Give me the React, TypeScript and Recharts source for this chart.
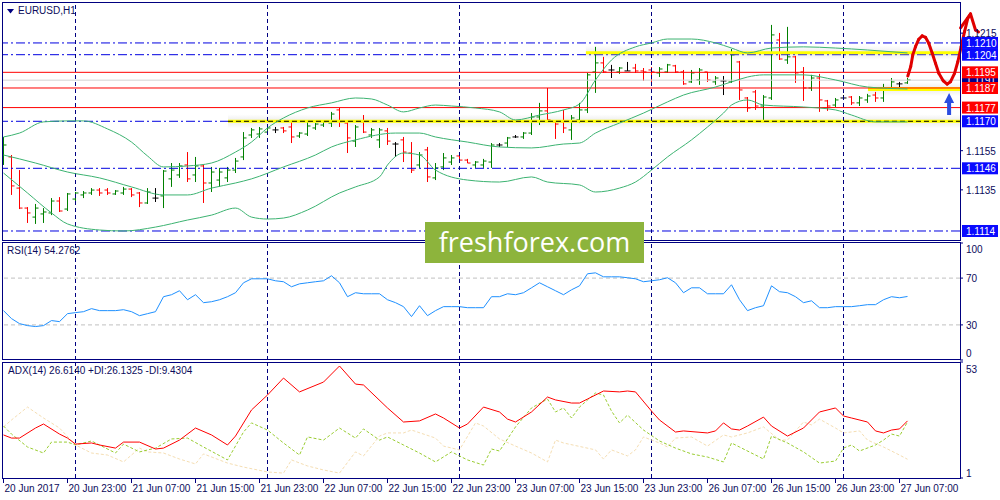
import React from 'react';
import { ComposedChart, Bar, Line, XAxis, YAxis, ReferenceLine, ReferenceArea, ReferenceDot } from 'recharts';

const FONT = '"Liberation Sans", Arial, sans-serif';
const NAVY = '#000080';
const TEXT = '#0c0c5c';
const UP = '#008000';
const DOWN = '#ff0000';
const DOJI = '#000000';
const BAND = '#3cb371';
const LEVEL_BLUE = '#0000e0';

// EURUSD H1, one entry per bar starting 20 Jun 2017 15:00
const opens = [
  1.11502, 1.11518, 1.11359, 1.11257, 1.11211, 1.11227, 1.11232, 1.11293, 1.11252, 1.11303,
  1.11324, 1.11334, 1.11349, 1.11349, 1.11329, 1.11334, 1.11354, 1.11334, 1.11283, 1.11308,
  1.11319, 1.11406, 1.11426, 1.11477, 1.11426, 1.11472, 1.11385, 1.11400, 1.11411, 1.11451,
  1.11518, 1.11630, 1.11635, 1.11645, 1.11656, 1.11666, 1.11671, 1.11625, 1.11635, 1.11666,
  1.11681, 1.11691, 1.11758, 1.11691, 1.11599, 1.11697, 1.11630, 1.11605, 1.11651, 1.11584,
  1.11605, 1.11538, 1.11477, 1.11554, 1.11411, 1.11467, 1.11492, 1.11523, 1.11502, 1.11477,
  1.11477, 1.11492, 1.11579, 1.11589, 1.11620, 1.11620, 1.11640, 1.11722, 1.11753, 1.11697,
  1.11697, 1.11656, 1.11707, 1.11758, 1.11952, 1.11998, 1.11962, 1.11952, 1.11957, 1.11972,
  1.11957, 1.11962, 1.11947, 1.11952, 1.11983, 1.11952, 1.11901, 1.11911, 1.11952, 1.11901,
  1.11906, 1.11901, 1.12003, 1.11819, 1.11850, 1.11778, 1.11819, 1.12115, 1.12013, 1.12029,
  1.11952, 1.11870, 1.11921, 1.11804, 1.11783, 1.11819, 1.11824, 1.11794, 1.11809, 1.11834,
  1.11819, 1.11865, 1.11891, 1.11896,
];
const highs = [
  1.11620, 1.11528, 1.11451, 1.11262, 1.11278, 1.11257, 1.11308, 1.11313, 1.11334, 1.11339,
  1.11344, 1.11359, 1.11359, 1.11359, 1.11349, 1.11365, 1.11359, 1.11339, 1.11359, 1.11359,
  1.11451, 1.11487, 1.11487, 1.11543, 1.11518, 1.11477, 1.11467, 1.11462, 1.11467, 1.11513,
  1.11645, 1.11666, 1.11671, 1.11671, 1.11671, 1.11671, 1.11697, 1.11645, 1.11702, 1.11691,
  1.11702, 1.11748, 1.11768, 1.11697, 1.11681, 1.11732, 1.11666, 1.11666, 1.11666, 1.11594,
  1.11620, 1.11594, 1.11543, 1.11569, 1.11487, 1.11538, 1.11528, 1.11528, 1.11508, 1.11497,
  1.11508, 1.11589, 1.11589, 1.11620, 1.11630, 1.11645, 1.11742, 1.11794, 1.11870, 1.11702,
  1.11758, 1.11732, 1.11794, 1.11947, 1.12080, 1.12029, 1.11988, 1.11977, 1.12003, 1.11993,
  1.11972, 1.11977, 1.11977, 1.11993, 1.11988, 1.11962, 1.11962, 1.11972, 1.11952, 1.11931,
  1.11931, 1.12069, 1.12008, 1.11824, 1.11860, 1.11834, 1.12192, 1.12151, 1.12182, 1.12034,
  1.11977, 1.11937, 1.11942, 1.11809, 1.11819, 1.11834, 1.11829, 1.11829, 1.11840, 1.11850,
  1.11891, 1.11921, 1.11901, 1.11921,
];
const lows = [
  1.11477, 1.11324, 1.11252, 1.11181, 1.11176, 1.11181, 1.11221, 1.11237, 1.11242, 1.11293,
  1.11308, 1.11324, 1.11319, 1.11324, 1.11324, 1.11324, 1.11313, 1.11262, 1.11278, 1.11288,
  1.11257, 1.11365, 1.11411, 1.11390, 1.11390, 1.11283, 1.11339, 1.11365, 1.11390, 1.11436,
  1.11502, 1.11615, 1.11615, 1.11640, 1.11640, 1.11640, 1.11589, 1.11615, 1.11625, 1.11656,
  1.11671, 1.11671, 1.11671, 1.11538, 1.11569, 1.11640, 1.11615, 1.11564, 1.11579, 1.11518,
  1.11492, 1.11436, 1.11462, 1.11390, 1.11400, 1.11451, 1.11477, 1.11502, 1.11487, 1.11462,
  1.11462, 1.11462, 1.11569, 1.11569, 1.11615, 1.11610, 1.11630, 1.11681, 1.11697, 1.11610,
  1.11640, 1.11605, 1.11691, 1.11742, 1.11845, 1.11947, 1.11921, 1.11942, 1.11957, 1.11947,
  1.11906, 1.11886, 1.11926, 1.11947, 1.11947, 1.11886, 1.11896, 1.11886, 1.11901, 1.11886,
  1.11834, 1.11896, 1.11809, 1.11748, 1.11758, 1.11702, 1.11809, 1.12013, 1.11993, 1.11896,
  1.11804, 1.11855, 1.11748, 1.11753, 1.11773, 1.11809, 1.11783, 1.11778, 1.11794, 1.11799,
  1.11799, 1.11860, 1.11870, 1.11891,
];
const closes = [
  1.11579, 1.11370, 1.11257, 1.11232, 1.11257, 1.11237, 1.11293, 1.11242, 1.11329, 1.11334,
  1.11334, 1.11349, 1.11334, 1.11334, 1.11344, 1.11354, 1.11324, 1.11283, 1.11339, 1.11308,
  1.11446, 1.11451, 1.11472, 1.11406, 1.11472, 1.11385, 1.11441, 1.11441, 1.11451, 1.11497,
  1.11615, 1.11656, 1.11661, 1.11666, 1.11656, 1.11651, 1.11620, 1.11640, 1.11676, 1.11686,
  1.11697, 1.11737, 1.11697, 1.11615, 1.11671, 1.11645, 1.11656, 1.11656, 1.11599, 1.11584,
  1.11543, 1.11451, 1.11528, 1.11416, 1.11462, 1.11513, 1.11513, 1.11502, 1.11487, 1.11492,
  1.11497, 1.11579, 1.11579, 1.11615, 1.11620, 1.11640, 1.11722, 1.11753, 1.11707, 1.11686,
  1.11666, 1.11717, 1.11758, 1.11937, 1.11998, 1.11952, 1.11962, 1.11972, 1.11957, 1.11957,
  1.11952, 1.11952, 1.11967, 1.11988, 1.11952, 1.11891, 1.11947, 1.11962, 1.11911, 1.11921,
  1.11906, 1.12039, 1.11860, 1.11768, 1.11778, 1.11824, 1.12141, 1.12018, 1.12029, 1.11947,
  1.11870, 1.11921, 1.11809, 1.11778, 1.11809, 1.11819, 1.11794, 1.11819, 1.11829, 1.11819,
  1.11865, 1.11901, 1.11891, 1.11911,
];

// Bollinger bands, [bar, price]
const bbUpper: [number, number][] = [
  [0, 1.1162], [2, 1.1164], [5, 1.11697], [8, 1.11702], [10, 1.11702], [13, 1.11661], [16, 1.11594],
  [18, 1.11523], [20, 1.11467], [23, 1.11472], [26, 1.11487], [29, 1.11543], [31, 1.11594], [33, 1.11666],
  [35, 1.11717], [38, 1.11768], [41, 1.11794], [44, 1.11819], [46, 1.11814], [48, 1.11783], [50, 1.11748],
  [52, 1.11768], [54, 1.11783], [56, 1.11778], [59, 1.11768], [62, 1.11748], [64, 1.11707], [67, 1.11732],
  [70, 1.11758], [72, 1.11788], [74, 1.11911], [76, 1.12013], [79, 1.1208], [81, 1.121], [83, 1.1212],
  [86, 1.1212], [89, 1.121], [91, 1.12074], [93, 1.12049], [96, 1.12074], [100, 1.1208], [104, 1.12074],
  [108, 1.12064], [113, 1.12049],
];
const bbMiddle: [number, number][] = [
  [0, 1.11528], [4, 1.11487], [8, 1.11441], [12, 1.11411], [16, 1.11365], [20, 1.11324], [23, 1.11324],
  [26, 1.11359], [29, 1.11385], [31, 1.11406], [35, 1.11467], [39, 1.11528], [41, 1.11569], [44, 1.11605],
  [49, 1.1164], [52, 1.1164], [54, 1.1162], [58, 1.11594], [62, 1.11569], [66, 1.11564], [70, 1.11584],
  [72, 1.11589], [74, 1.1164], [77, 1.11691], [80, 1.11742], [83, 1.11799], [85, 1.11834], [89, 1.11875],
  [91, 1.11901], [93, 1.11926], [95, 1.11937], [100, 1.11937], [104, 1.11911], [108, 1.11875], [113, 1.11865],
];
const bbLower: [number, number][] = [
  [0, 1.11436], [3, 1.11334], [6, 1.11232], [8, 1.11176], [12, 1.11145], [15, 1.1114], [19, 1.1116],
  [23, 1.11196], [26, 1.11221], [29, 1.11257], [31, 1.11211], [33, 1.11201], [35, 1.11206], [38, 1.11247],
  [42, 1.11334], [44, 1.11365], [47, 1.11416], [48, 1.11477], [50, 1.11538], [52, 1.11528], [54, 1.11451],
  [58, 1.114], [62, 1.1139], [66, 1.11416], [68, 1.1139], [72, 1.11375], [74, 1.11339], [77, 1.11359],
  [79, 1.1139], [81, 1.11451], [83, 1.11518], [86, 1.11605], [88, 1.11671], [90, 1.11742], [91, 1.11783],
  [93, 1.11809], [95, 1.11783], [100, 1.11773], [104, 1.11758], [106, 1.11732], [109, 1.11697], [113, 1.11697],
];

const rsiValues = [
  42.2, 35.4, 31.1, 29.4, 28.6, 29.4, 33.7, 32.8, 39.6, 40.5,
  41.3, 43.9, 42.2, 42.2, 42.2, 43.0, 41.3, 37.9, 39.6, 41.3,
  54.1, 55.8, 59.2, 51.5, 55.8, 49.0, 49.8, 51.5, 54.1, 57.5,
  66.0, 69.4, 69.4, 69.4, 67.7, 66.9, 62.6, 65.1, 66.0, 66.9,
  67.7, 72.0, 66.0, 54.1, 57.5, 56.6, 56.6, 56.6, 51.5, 49.0,
  45.6, 37.1, 46.4, 37.9, 42.2, 45.6, 45.6, 45.6, 44.7, 44.7,
  44.7, 54.1, 54.1, 56.6, 55.8, 57.5, 61.7, 66.0, 62.6, 59.2,
  55.8, 60.0, 63.4, 73.7, 74.5, 71.1, 71.1, 71.1, 70.3, 69.4,
  66.9, 67.7, 68.6, 70.3, 66.0, 57.5, 61.7, 61.7, 56.6, 56.6,
  56.6, 64.3, 51.5, 42.2, 44.7, 46.4, 63.4, 58.4, 57.5, 54.1,
  49.0, 50.6, 44.7, 44.7, 45.6, 45.6, 45.6, 46.4, 47.3, 47.3,
  51.5, 54.1, 53.2, 54.3,
];

const adxMain: [number, number][] = [
  [0, 20.3], [1, 18.9], [2, 18.9], [4, 23.4], [5, 25.2], [7, 20.7], [8, 18.9], [9, 16.2], [11, 16.7],
  [12, 15.8], [14, 14.4], [15, 17.1], [17, 17.1], [19, 14.0], [20, 14.4], [22, 18.0], [24, 23.4],
  [26, 20.3], [28, 15.8], [29, 19.8], [31, 31.5], [33, 38.2], [35, 45.8], [37, 39.6], [40, 44.0],
  [42, 51.2], [44, 43.1], [45, 42.7], [48, 32.4], [50, 26.1], [52, 26.6], [54, 29.7], [55, 27.9],
  [57, 23.4], [58, 25.2], [60, 32.8], [62, 30.6], [63, 27.4], [64, 26.1], [66, 30.6], [68, 37.3],
  [69, 36.0], [71, 34.6], [72, 34.6], [73, 36.4], [75, 40.0], [77, 39.6], [78, 40.0], [79, 39.6],
  [81, 31.0], [82, 27.0], [84, 21.6], [85, 22.1], [88, 21.2], [89, 22.1], [90, 25.7], [91, 23.0],
  [92, 22.5], [93, 24.3], [95, 28.3], [96, 24.3], [98, 19.8], [100, 23.4], [102, 30.6], [104, 32.4],
  [105, 28.8], [106, 27.9], [108, 26.1], [109, 22.1], [110, 21.2], [111, 22.5], [112, 23.0], [113, 26.6],
];
const adxPlusDi: [number, number][] = [
  [0, 24.3], [1, 20.7], [3, 14.9], [5, 12.2], [6, 17.1], [8, 17.1], [9, 15.8], [11, 17.6], [14, 12.2],
  [15, 16.2], [17, 12.7], [19, 14.4], [21, 18.5], [23, 18.9], [25, 14.9], [28, 9.1], [30, 21.6],
  [31, 25.7], [33, 22.5], [35, 16.7], [37, 11.3], [38, 19.4], [40, 18.0], [42, 23.4], [44, 18.9],
  [45, 23.0], [47, 18.0], [48, 19.4], [50, 15.8], [52, 12.2], [54, 8.2], [56, 12.7], [58, 9.1],
  [60, 6.8], [61, 14.0], [62, 13.1], [64, 23.9], [66, 32.4], [68, 36.4], [69, 30.6], [70, 32.4],
  [71, 27.9], [72, 32.8], [74, 39.1], [75, 38.2], [76, 31.0], [77, 25.7], [78, 29.2], [80, 22.5],
  [82, 17.6], [84, 14.4], [86, 11.8], [88, 10.4], [90, 8.2], [91, 16.7], [92, 14.9], [95, 9.5],
  [96, 19.8], [98, 16.7], [100, 12.7], [102, 7.7], [104, 8.6], [105, 14.4], [106, 15.8], [107, 13.1],
  [109, 15.8], [110, 18.0], [111, 20.7], [112, 19.8], [113, 26.1],
];
const adxMinusDi: [number, number][] = [
  [0, 23.9], [1, 27.0], [3, 32.8], [5, 27.9], [7, 23.4], [9, 15.8], [11, 12.2], [13, 11.3], [15, 8.2],
  [17, 14.4], [18, 12.7], [20, 12.2], [22, 9.5], [24, 7.3], [25, 11.8], [28, 7.7], [30, 5.9], [33, 3.7],
  [35, 3.2], [36, 9.1], [38, 6.4], [40, 4.6], [42, 3.2], [44, 12.7], [45, 10.9], [47, 19.8], [48, 21.2],
  [50, 21.2], [51, 22.5], [54, 18.9], [55, 15.3], [57, 13.6], [59, 25.7], [60, 24.3], [62, 18.5],
  [64, 15.3], [66, 12.2], [68, 8.2], [69, 18.0], [70, 16.7], [74, 13.6], [75, 9.5], [76, 13.6],
  [78, 10.9], [79, 13.6], [80, 19.4], [82, 16.7], [83, 14.9], [84, 18.9], [86, 19.4], [88, 15.3],
  [90, 20.3], [91, 19.4], [93, 21.2], [95, 23.9], [97, 18.0], [98, 18.0], [100, 26.1], [101, 24.8],
  [102, 27.4], [104, 23.4], [105, 21.2], [107, 22.1], [108, 18.0], [110, 14.9], [112, 11.3], [113, 9.4],
];

const timeTickBars = [0, 8, 16, 24, 32, 40, 48, 56, 64, 72, 80, 88, 96, 104, 112];
const timeLabels = [
  '20 Jun 2017', '20 Jun 23:00', '21 Jun 07:00', '21 Jun 15:00', '21 Jun 23:00',
  '22 Jun 07:00', '22 Jun 15:00', '22 Jun 23:00', '23 Jun 07:00', '23 Jun 15:00',
  '23 Jun 23:00', '26 Jun 07:00', '26 Jun 15:00', '26 Jun 23:00', '27 Jun 07:00',
];
const dayBreakBars = [9, 33, 57, 81, 105];

const blueLevels = [1.121, 1.1204, 1.117, 1.1146, 1.1114];
const redLevels = [1.1195, 1.1187, 1.1177];
const grayLevel = 1.1191;
// yellow zones: [first bar, price]
const yellowZones: [number, number][] = [[28.06, 1.117], [72.8, 1.1205], [108.06, 1.11865]];

const priceTicks = [1.1191, 1.1215, 1.121, 1.1204, 1.1195, 1.1187, 1.1177, 1.117, 1.1155, 1.1146, 1.1135, 1.1114];
const tagColors: Record<string, string> = {
  '1.1210': '#0a0aff', '1.1204': '#0a0aff', '1.1170': '#0a0aff', '1.1146': '#0a0aff', '1.1114': '#0a0aff',
  '1.1195': '#ff0000', '1.1187': '#ff0000', '1.1177': '#ff0000', '1.1191': '#00008b',
};

// hand drawn forecast stroke and arrow, [bar, price]
const forecastPath: [number, number][] = [
  [113.04, 1.11931], [113.4, 1.11979], [113.66, 1.12039], [114.0, 1.12081], [114.41, 1.12119],
  [114.84, 1.12136], [115.25, 1.12129], [115.66, 1.12098], [116.09, 1.12047], [116.5, 1.11996],
  [116.91, 1.11945], [117.46, 1.11907], [117.96, 1.1189], [118.38, 1.11902], [118.88, 1.11945],
  [119.29, 1.12004], [119.71, 1.12081], [120.13, 1.12158], [120.54, 1.12226], [120.88, 1.12248],
  [121.5, 1.12166], [121.88, 1.12156],
];
const forecastWing: [number, number][] = [[119.63, 1.12177], [120.88, 1.12248]];
const arrowTip = { bar: 118.2, price: 1.11845 };

const X_DOMAIN: [number, number] = [-0.1875, 119.5625];
const PRICE_DOMAIN: [number, number] = [1.11094, 1.12309];

const bars = opens.map((o, i) => ({
  i, open: o, high: highs[i], low: lows[i], close: closes[i], range: [lows[i], highs[i]],
}));
const toPoints = (pts: [number, number][]) => pts.map(([i, v]) => ({ i, v }));
const rsiData = rsiValues.map((v, i) => ({ i, v }));

const OhlcBar = (props: any) => {
  const { x, y, width, height, payload } = props;
  if (!payload) return null;
  const top = Math.min(y, y + height);
  const bottom = Math.max(y, y + height);
  const span = payload.high - payload.low || 1e-9;
  const toY = (v: number) => top + ((payload.high - v) / span) * (bottom - top);
  const cx = Math.floor(x + width / 2) + 0.5;
  const color = payload.close > payload.open ? UP : payload.close < payload.open ? DOWN : DOJI;
  const yo = toY(payload.open);
  const yc = toY(payload.close);
  return (
    <g stroke={color} strokeWidth={1}>
      <line x1={cx} x2={cx} y1={top} y2={Math.max(bottom, top + 1)} />
      <line x1={cx - 3} x2={cx} y1={yo} y2={yo} />
      <line x1={cx} x2={cx + 3} y1={yc} y2={yc} />
    </g>
  );
};

const PriceTick = ({ x, y, payload }: any) => {
  const label = Number(payload.value).toFixed(4);
  const bg = tagColors[label];
  if (bg) {
    return (
      <g>
        <rect x={x + 2} y={y - 6} width={36} height={12} fill={bg} />
        <text x={x + 6} y={y + 4} fill="#ffffff" fontSize={10} fontFamily={FONT}>{label}</text>
      </g>
    );
  }
  return (
    <g>
      <line x1={x} x2={x + 3} y1={y} y2={y} stroke={NAVY} />
      <text x={x + 6} y={y + 4} fill={TEXT} fontSize={10} fontFamily={FONT}>{label}</text>
    </g>
  );
};

const scaleTick = (shift: Record<string, number>) => ({ x, y, payload }: any) => (
  <g>
    <line x1={x} x2={x + 3} y1={y} y2={y} stroke={NAVY} />
    <text x={x + 6} y={y + 4 + (shift[String(payload.value)] || 0)} fill={TEXT} fontSize={10} fontFamily={FONT}>
      {payload.value}
    </text>
  </g>
);
const RsiTick = scaleTick({ '100': 6, '0': -7 });
const AdxTick = scaleTick({ '53': 7, '1': -5 });

const TimeTick = ({ x, y, payload }: any) => (
  <g>
    <line x1={x} x2={x} y1={y} y2={y + 5} stroke={NAVY} />
    <text x={x + 1} y={y + 14} fill={TEXT} fontSize={10} fontFamily={FONT}>
      {timeLabels[timeTickBars.indexOf(payload.value)]}
    </text>
  </g>
);

const ArrowShape = ({ cx, cy }: any) => (
  <path
    d={`M${cx},${cy} L${cx + 5},${cy + 10} L${cx + 2},${cy + 10} L${cx + 2},${cy + 22} L${cx - 2},${cy + 22} L${cx - 2},${cy + 10} L${cx - 5},${cy + 10} Z`}
    fill="#2b4de0"
  />
);

const dayBreaks = () =>
  dayBreakBars.map(b => (
    <ReferenceLine key={`d${b}`} x={b} stroke={NAVY} strokeDasharray="4 3" />
  ));

const paneBox = (top: number, height: number): React.CSSProperties => ({
  position: 'absolute', left: 2, top, width: 959, height, boxSizing: 'border-box',
  border: `1px solid ${NAVY}`, pointerEvents: 'none',
});

const label: React.CSSProperties = {
  position: 'absolute', fontSize: 10, color: TEXT, fontFamily: FONT, whiteSpace: 'nowrap', lineHeight: '12px',
};

const App: React.FC = () => {
  const segments = forecastPath.slice(1).map((p, k) => [forecastPath[k], p]).concat([forecastWing as any]);
  return (
    <div style={{ position: 'absolute', left: 0, top: 0, width: 1000, height: 500, background: '#fff', overflow: 'hidden', fontFamily: FONT }}>
      <div style={{ position: 'absolute', left: 0, top: 0 }}>
        <ComposedChart width={1000} height={242} data={bars} margin={{ top: 2, right: 0, bottom: 2, left: 2 }}>
          <defs>
            <linearGradient id="glow" x1="0" y1="0" x2="0" y2="1">
              <stop offset="0%" stopColor="#808080" stopOpacity={0} />
              <stop offset="50%" stopColor="#808080" stopOpacity={0.3} />
              <stop offset="100%" stopColor="#808080" stopOpacity={0} />
            </linearGradient>
          </defs>
          <XAxis dataKey="i" type="number" domain={X_DOMAIN} allowDataOverflow hide />
          <YAxis
            orientation="right"
            width={40}
            type="number"
            domain={PRICE_DOMAIN}
            allowDataOverflow
            ticks={priceTicks}
            interval={0}
            tickSize={0}
            tickMargin={0}
            axisLine={false}
            tickLine={false}
            tick={<PriceTick />}
          />
          {yellowZones.map(([from, price]) => (
            <ReferenceArea key={`g${price}`} x1={from} x2={X_DOMAIN[1]} y1={price - 0.00036} y2={price + 0.00036} fill="url(#glow)" stroke="none" />
          ))}
          {blueLevels.map(v => (
            <ReferenceLine key={`b${v}`} y={v} stroke={LEVEL_BLUE} strokeDasharray="9 3 2 3" />
          ))}
          <ReferenceLine y={grayLevel} stroke="#d3d3d3" />
          {yellowZones.map(([from, price], k) => (
            <ReferenceLine
              key={`y${price}`}
              segment={[{ x: from, y: price }, { x: X_DOMAIN[1], y: price }]}
              stroke="#ffff00"
              strokeWidth={k === 2 ? 4 : 3}
            />
          ))}
          <ReferenceLine
            segment={[{ x: yellowZones[0][0], y: yellowZones[0][1] }, { x: X_DOMAIN[1], y: yellowZones[0][1] }]}
            stroke="#000000"
            strokeDasharray="5 3"
          />
          {redLevels.map(v => (
            <ReferenceLine key={`r${v}`} y={v} stroke="#ff0000" />
          ))}
          {dayBreaks()}
          <Line data={toPoints(bbUpper)} dataKey="v" type="monotone" stroke={BAND} strokeWidth={1} dot={false} isAnimationActive={false} />
          <Line data={toPoints(bbMiddle)} dataKey="v" type="monotone" stroke={BAND} strokeWidth={1} dot={false} isAnimationActive={false} />
          <Line data={toPoints(bbLower)} dataKey="v" type="monotone" stroke={BAND} strokeWidth={1} dot={false} isAnimationActive={false} />
          <Bar dataKey="range" barSize={6} shape={<OhlcBar />} isAnimationActive={false} />
          {segments.map(([a, b], k) => (
            <ReferenceLine
              key={`f${k}`}
              segment={[{ x: a[0], y: a[1] }, { x: b[0], y: b[1] }]}
              stroke="#e00000"
              strokeWidth={3}
              strokeLinecap="round"
              ifOverflow="visible"
            />
          ))}
          <ReferenceDot x={arrowTip.bar} y={arrowTip.price} r={1} ifOverflow="visible" shape={<ArrowShape />} />
        </ComposedChart>
      </div>

      <div style={{ position: 'absolute', left: 0, top: 240 }}>
        <ComposedChart width={1000} height={122} data={rsiData} margin={{ top: 3, right: 0, bottom: 2, left: 2 }}>
          <XAxis dataKey="i" type="number" domain={X_DOMAIN} allowDataOverflow hide />
          <YAxis
            orientation="right"
            width={40}
            type="number"
            domain={[0, 100]}
            allowDataOverflow
            ticks={[0, 30, 70, 100]}
            interval={0}
            tickSize={0}
            tickMargin={0}
            axisLine={false}
            tickLine={false}
            tick={<RsiTick />}
          />
          <ReferenceLine y={70} stroke="#c0c0c0" strokeDasharray="4 3" />
          <ReferenceLine y={30} stroke="#c0c0c0" strokeDasharray="4 3" />
          {dayBreaks()}
          <Line dataKey="v" type="linear" stroke="#1e90ff" strokeWidth={1} dot={false} isAnimationActive={false} />
        </ComposedChart>
      </div>

      <div style={{ position: 'absolute', left: 0, top: 360 }}>
        <ComposedChart width={1000} height={140} margin={{ top: 2, right: 0, bottom: 0, left: 2 }}>
          <XAxis
            dataKey="i"
            type="number"
            domain={X_DOMAIN}
            allowDataOverflow
            ticks={timeTickBars}
            interval={0}
            height={22}
            tickSize={0}
            tickMargin={0}
            axisLine={false}
            tickLine={false}
            tick={<TimeTick />}
          />
          <YAxis
            orientation="right"
            width={40}
            type="number"
            domain={[1, 53]}
            allowDataOverflow
            ticks={[1, 53]}
            interval={0}
            tickSize={0}
            tickMargin={0}
            axisLine={false}
            tickLine={false}
            tick={<AdxTick />}
          />
          {dayBreaks()}
          <Line data={toPoints(adxMinusDi)} dataKey="v" type="linear" stroke="#f5deb3" strokeDasharray="3 2" strokeWidth={1} dot={false} isAnimationActive={false} />
          <Line data={toPoints(adxPlusDi)} dataKey="v" type="linear" stroke="#9acd32" strokeDasharray="3 2" strokeWidth={1} dot={false} isAnimationActive={false} />
          <Line data={toPoints(adxMain)} dataKey="v" type="linear" stroke="#ff0000" strokeWidth={1} dot={false} isAnimationActive={false} />
        </ComposedChart>
      </div>

      <div style={paneBox(2, 239)} />
      <div style={paneBox(242, 118)} />
      <div style={paneBox(362, 117)} />

      <svg style={{ position: 'absolute', left: 7, top: 9 }} width={7} height={5}>
        <path d="M0,0 L7,0 L3.5,4.5 Z" fill={NAVY} />
      </svg>
      <div style={{ ...label, left: 18, top: 5 }}>EURUSD,H1</div>
      <div style={{ ...label, left: 7, top: 245 }}>RSI(14) 54.2762</div>
      <div style={{ ...label, left: 8, top: 365 }}>ADX(14) 26.6140 +DI:26.1325 -DI:9.4304</div>

      <div
        style={{
          position: 'absolute', left: 425, top: 222, width: 219, height: 41, background: '#8db43c',
          color: '#ffffff', fontFamily: '"Open Sans", sans-serif', fontSize: 27, lineHeight: '40px', textAlign: 'center',
        }}
      >
        freshforex.com
      </div>
    </div>
  );
};

export default App;
